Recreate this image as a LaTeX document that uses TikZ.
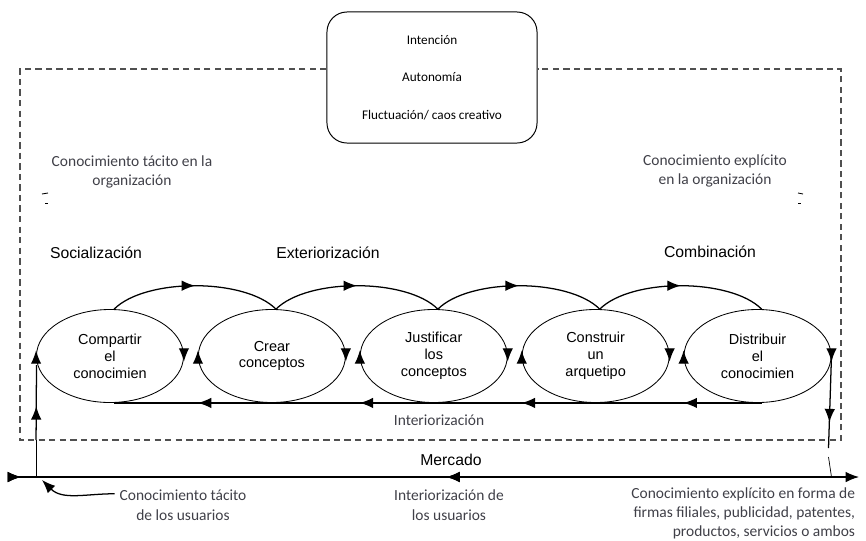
\documentclass[tikz,border=0pt]{standalone}
\usepackage{fontspec}
\setmainfont{Carlito}
\newfontfamily\arialfont{Liberation Sans}
\usetikzlibrary{shapes.geometric,arrows.meta,decorations.markings,positioning}

\definecolor{textgray}{RGB}{64,64,72}
\definecolor{framegray}{RGB}{80,80,80}
\tikzstyle{fase} = [draw, ellipse, line width=0.6pt, minimum width=3.675cm, minimum height=2.325cm, inner sep=0pt, align=center, font=\arialfont\fontsize{10.3}{12}\selectfont]

\begin{document}
\begin{tikzpicture}[x=0.025cm, y=-0.025cm,
			>={Latex[length=9.5pt,width=7.5pt]},
			flow/.style={line width=0.9pt},
			midarrow/.style={postaction={decorate}, decoration={markings, mark=at position #1 with {\arrow{>}}}},
			midarrow/.default=0.5,
			midback/.style={postaction={decorate}, decoration={markings, mark=at position #1 with {\arrowreversed{>}}}},
			note/.style={text=textgray, align=center, font=\fontsize{11}{14}\selectfont},
			head/.style={font=\arialfont\fontsize{11.2}{13}\selectfont},
			box/.style={draw, line width=0.7pt, rounded corners=0.5cm, minimum width=5.25cm, minimum height=3.275cm, align=center, font=\fontsize{9.4}{26.7}\selectfont},
			frame/.style={draw=framegray, line width=1pt, dash pattern=on 4.5pt off 3pt}]
			\useasboundingbox (0,0) rectangle (866,540);
			% top box and dashed frame
			\node[box] (box) at (432,77.5) {Intención\\Autonomía\\Fluctuación/ caos creativo};
			\coordinate (ftl) at (20,69);
			\coordinate (fbl) at (20,440);
			\coordinate (fbr) at (841,440);
			\coordinate (ftr) at (841,69);
			\draw[frame] (box.west |- ftl) -- (ftl) -- (fbl) -- (fbr) -- (ftr) -- (box.east |- ftr);
			% texts inside the frame
			\node[note] (tacito) at (132,172) {Conocimiento tácito en la\\organización};
			\node[note] (explicito) at (715,171) {Conocimiento explícito\\en la organización};
			\draw[line width=0.6pt] (42,194) -- (48,193);
			\draw[line width=0.6pt] (45,203) -- (48,203);
			\draw[line width=0.6pt] (798,193) -- (803,194);
			\draw[line width=0.6pt] (798,203) -- (801,203);
			\node[head] (soc) at (96,253) {Socialización};
			\node[head] (ext) at (328,253) {Exteriorización};
			\node[head] (comb) at (710,252) {Combinación};
			% the five phases
			\node[fase] (e1) at (110,356) {Compartir\\el\\conocimien};
			\node[fase, right=0.35cm of e1] (e2) {Crear\\conceptos};
			\node[fase, right=0.35cm of e2] (e3) {Justificar\\los\\conceptos};
			\node[fase, right=0.35cm of e3] (e4) {Construir\\un\\arquetipo};
			\node[fase, right=0.35cm of e4] (e5) {Distribuir\\el\\conocimien};
			\foreach \i in {1,...,5} {
				\draw[flow,->] ([yshift=4pt]e\i.east) -- ([yshift=-4pt]e\i.east);
				\draw[flow,->] ([yshift=-4pt]e\i.west) -- ([yshift=4pt]e\i.west);
			}
			\foreach \a/\b in {1/2,2/3,3/4,4/5}
				\draw[flow,midarrow] (e\a.85) to[out=45,in=135,looseness=0.7] (e\b.85);
			\draw[flow] (e5.-85) -- (e1.-85);
			\foreach \i in {2,...,5}
				\draw[flow,->] ([xshift=10pt]e\i.west |- e\i.south) -- (e\i.west |- e\i.south);
			\node[note] (inter) at (439,420) {Interiorización};
			% market line
			\node[head] (merc) at (451,460) {Mercado};
			\coordinate (m1) at (10,477);
			\coordinate (m2) at (859,477);
			\draw[flow,->,midarrow=0.013,midback=0.514] (m1) -- (m2);
			\coordinate (l1) at (36.5,365);
			\draw[line width=0.5pt] (e1.west |- m1) -- (e1.west |- fbl);
			\draw[flow,midarrow=0.45] (e1.west |- fbl) -- (l1);
			\coordinate (r1) at (828.5,448);
			\coordinate (r2) at (828.5,457);
			\draw[flow,midarrow=0.72] (e5.east) -- (r1);
			\draw[line width=0.5pt] (r2) -- (e5.east |- m2);
			% texts below the line
			\node[note] (tacitou) at (183,505) {Conocimiento tácito\\de los usuarios};
			\node[note] (interu) at (449,505) {Interiorización de\\los usuarios};
			\node[note, align=right, anchor=east, font=\fontsize{11}{13.5}\selectfont] (explicitou) at (860,513) {Conocimiento explícito en forma de\\firmas filiales, publicidad, patentes,\\productos, servicios o ambos};
			\coordinate (t1) at (42,480);
			\draw[flow,->] ([yshift=8pt]tacitou.west) to[out=180,in=-45] (t1);
		\end{tikzpicture}
\end{document}
